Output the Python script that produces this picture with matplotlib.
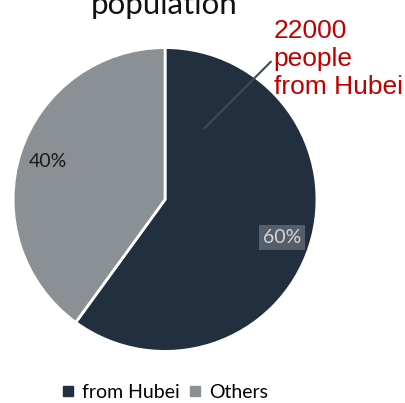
import matplotlib.pyplot as plt

labels = ["from Hubei", "Others"]
shares = [60, 40]
colors = ["#212f3f", "#8b9095"]
note = "22000\npeople\nfrom Hubei"

fig = plt.figure(figsize=(4.05, 4.03), dpi=100)
ax = fig.add_axes([0.032, 0.128, 0.751, 0.754])

wedges, _, pcts = ax.pie(
    shares, colors=colors, startangle=90, counterclock=False,
    autopct="%d%%", pctdistance=0.81,
    wedgeprops=dict(edgecolor="white", linewidth=2),
    textprops=dict(fontsize=14, family="Lato"),
)
pcts[0].set_color("#d4d7da")
pcts[0].set_bbox(dict(facecolor="#5b6570", edgecolor="none", pad=3, alpha=0.9))
pcts[1].set_color("#1a1a1a")
ax.set_xlim(-1, 1)
ax.set_ylim(-1, 1)
ax.set_aspect("equal")
ax.axis("off")

# callout line + red note
ax.annotate(note, xy=(0.26, 0.47), xytext=(0.715, 1.19),
            fontsize=19, color="#c00000", family="Liberation Sans",
            va="top", ha="left", linespacing=1.22,
            arrowprops=dict(arrowstyle="-", color="#3b4b5c", lw=1.5,
                            shrinkA=0, shrinkB=0, relpos=(0, 0.5)))

fig.text(164 / 405, 1 - 14 / 403, "population", fontsize=22.5, family="Lato",
         ha="center", va="baseline", color="#111111")

handles = [plt.Line2D([], [], marker="s", ls="", color=c, markersize=7) for c in colors]
fig.legend(handles, labels, loc="center", bbox_to_anchor=(165 / 405, 11 / 403),
           ncol=2, frameon=False, handlelength=0.6, handletextpad=0.4,
           columnspacing=0.5, prop=dict(family="Lato", size=14))

fig.savefig("out.png", dpi=100)
